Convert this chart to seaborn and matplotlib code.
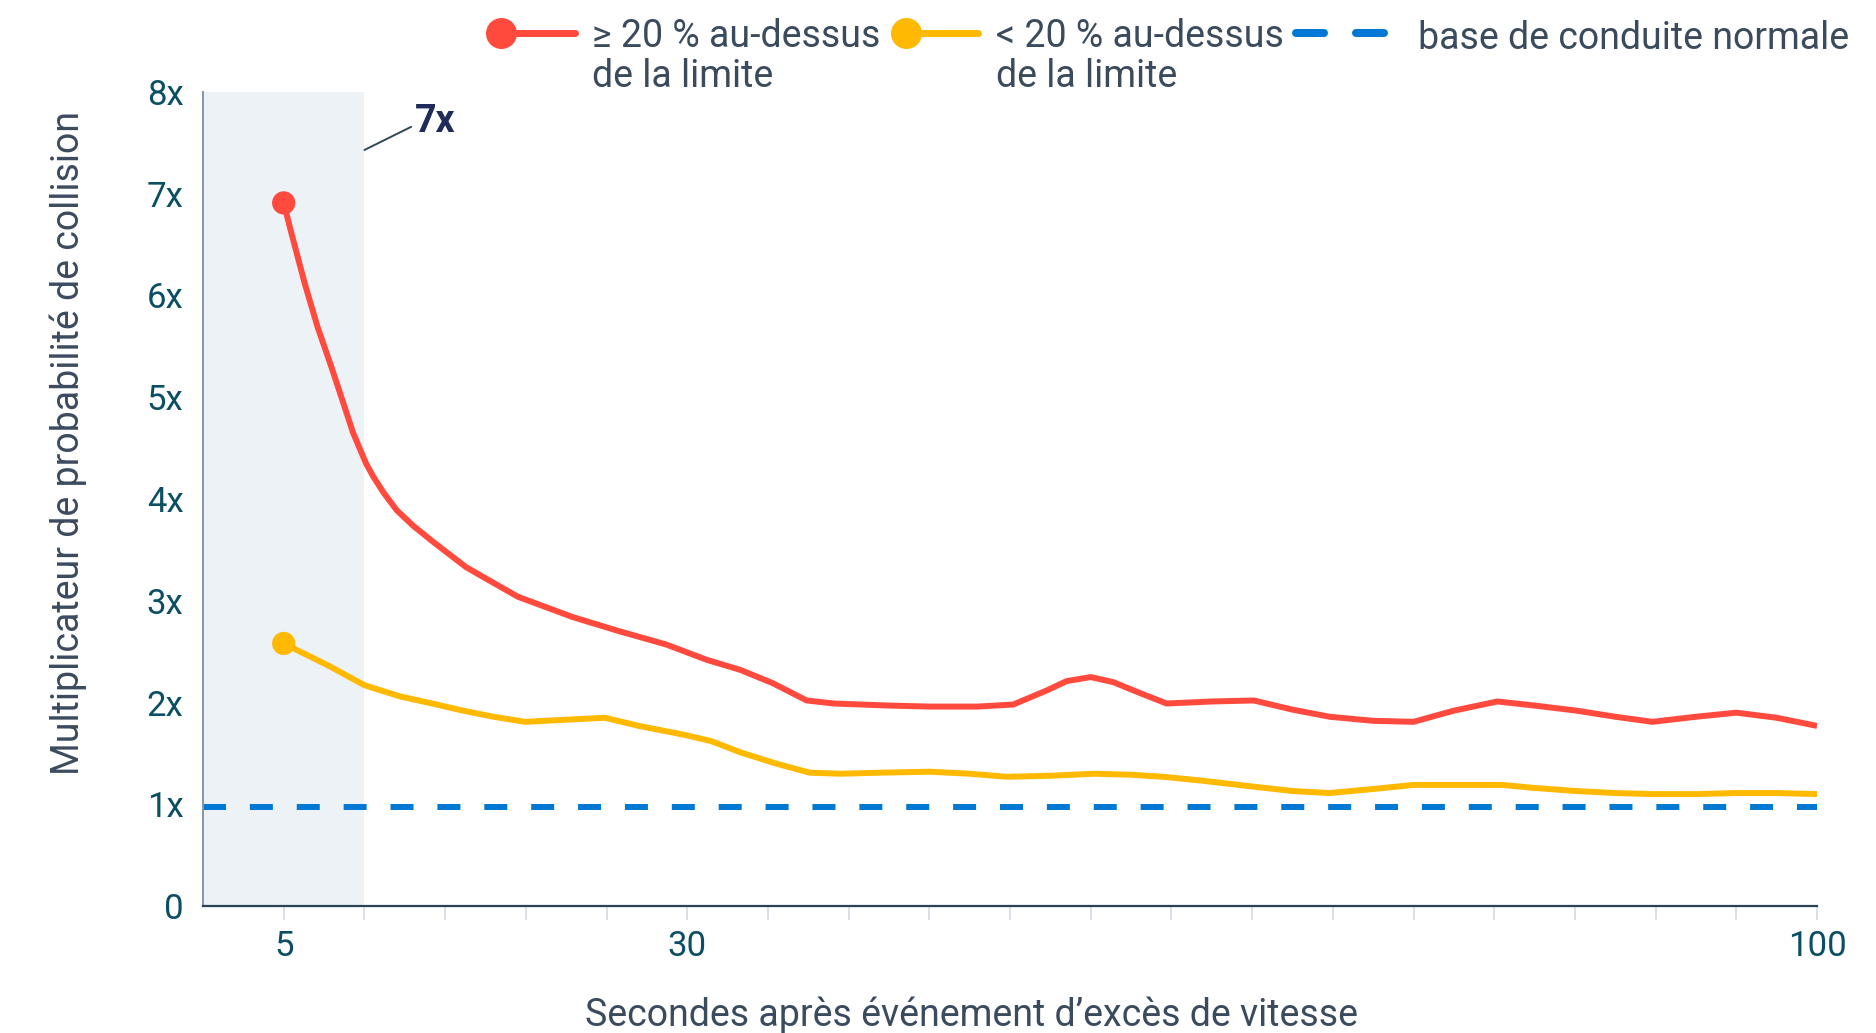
import matplotlib
matplotlib.use("Agg")
import matplotlib.pyplot as plt
import seaborn as sns
import pandas as pd
from matplotlib.legend_handler import HandlerBase
from matplotlib.lines import Line2D

# ---------------- data ----------------
red_x = [5, 5.4, 6.3, 7.1, 7.95, 8.7, 9.3, 10.1, 10.55, 11.2, 12.0, 13.0, 14.25, 16.3, 19.5,
         22.9, 25.8, 28.7, 31.2, 33.3, 35.3, 37.4, 39.1, 42.5, 45.0, 48.0, 50.2, 52.3, 53.5,
         55.0, 56.4, 58.1, 59.7, 62.5, 65.1, 67.5, 69.8, 72.5, 75.0, 77.5, 80.2, 82.5, 85.1,
         87.5, 89.8, 92.5, 95.0, 97.5, 100]
red_y = [6.91, 6.66, 6.12, 5.69, 5.30, 4.94, 4.65, 4.35, 4.22, 4.06, 3.89, 3.74, 3.58, 3.33, 3.04,
         2.84, 2.70, 2.57, 2.42, 2.32, 2.19, 2.02, 1.99, 1.97, 1.96, 1.96, 1.98, 2.12, 2.21,
         2.25, 2.20, 2.09, 1.99, 2.01, 2.02, 1.93, 1.86, 1.82, 1.81, 1.92, 2.01, 1.97, 1.92,
         1.86, 1.81, 1.86, 1.90, 1.85, 1.77]

yellow_x = [5, 6.4, 7.8, 10.0, 12.2, 14.2, 16.1, 18.0, 19.95, 22.4, 24.9, 27.0, 29.9, 31.5,
            33.3, 35.5, 37.6, 39.5, 41.9, 45.0, 47.5, 49.8, 52.5, 55.2, 57.5, 59.5, 62,
            64.7, 67.5, 69.8, 72.5, 75, 77.5, 80.5, 82.5, 85.1, 87.5, 89.8, 92.5, 95, 97.5, 100]
yellow_y = [2.58, 2.47, 2.36, 2.17, 2.06, 1.99, 1.92, 1.86, 1.81, 1.83, 1.85, 1.77, 1.68, 1.62,
            1.51, 1.40, 1.31, 1.30, 1.31, 1.32, 1.30, 1.27, 1.28, 1.30, 1.29, 1.27, 1.23,
            1.18, 1.13, 1.11, 1.15, 1.19, 1.19, 1.19, 1.16, 1.13, 1.11, 1.10, 1.10, 1.11, 1.11, 1.10]

baseline_value = 0.97
series_names = ["≥ 20 % au-dessus\nde la limite", "< 20 % au-dessus\nde la limite"]
baseline_name = "base de conduite normale"
x_ticks = list(range(5, 101, 5))
x_tick_labels = ["5" if t == 5 else "30" if t == 30 else "100" if t == 100 else "" for t in x_ticks]
y_ticks = [0, 1, 2, 3, 4, 5, 6, 7, 8]
y_tick_labels = ["0", "1x", "2x", "3x", "4x", "5x", "6x", "7x", "8x"]
highlight_span = (0, 10)
annotation_text = "7x"
x_label = "Secondes après événement d’excès de vitesse"
y_label = "Multiplicateur de probabilité de collision"

# ---------------- style ----------------
RED = "#ff4a3d"
YELLOW = "#ffb900"
BLUE = "#0078d4"
SHADE = "#edf2f7"
TICK_COL = "#0b4f64"
TEXT_COL = "#3b4b5e"
NAVY = "#1f2b5b"

sns.set_theme(style="white")
plt.rcParams["font.family"] = ["Roboto", "DejaVu Sans"]

W, H = 1876, 1033
fig = plt.figure(figsize=(W / 100, H / 100), dpi=100)
ax = fig.add_axes([203 / W, (H - 906) / H, (1817 - 203) / W, (906 - 92) / H])

df = pd.concat([
    pd.DataFrame({"x": red_x, "y": red_y, "series": series_names[0]}),
    pd.DataFrame({"x": yellow_x, "y": yellow_y, "series": series_names[1]}),
])
palette = {series_names[0]: RED, series_names[1]: YELLOW}

ax.axvspan(*highlight_span, color=SHADE, zorder=0, lw=0)
ax.axhline(baseline_value, color=BLUE, lw=4.3, dashes=(3.85, 4.0), dash_capstyle="butt", zorder=2)

sns.lineplot(data=df, x="x", y="y", hue="series", palette=palette, lw=4.3,
             legend=False, ax=ax, zorder=3, solid_capstyle="butt", solid_joinstyle="round")
first = df.groupby("series", sort=False).first().reset_index()
sns.scatterplot(data=first, x="x", y="y", hue="series", palette=palette, s=280,
                linewidth=0, legend=False, ax=ax, zorder=4)

ax.set_xlim(0, 100)
ax.set_ylim(0, 8)
ax.set_xticks(x_ticks)
ax.set_xticklabels(x_tick_labels)
ax.set_yticks(y_ticks)
ax.set_yticklabels(y_tick_labels)
ax.tick_params(axis="x", length=10, width=1.2, color="#d3dae1", labelsize=25,
               labelcolor=TICK_COL, pad=7, bottom=True)
ax.tick_params(axis="y", length=0, labelsize=25, labelcolor=TICK_COL, pad=14, left=True)

for s in ["top", "right"]:
    ax.spines[s].set_visible(False)
ax.spines["left"].set_color("#8496a9")
ax.spines["left"].set_linewidth(1.4)
ax.spines["bottom"].set_color("#2b4356")
ax.spines["bottom"].set_linewidth(1.6)
ax.grid(False)

ax.set_xlabel(x_label, fontsize=27, color=TEXT_COL)
ax.set_ylabel(y_label, fontsize=27, color=TEXT_COL)
ax.xaxis.set_label_coords(0.476, -0.1345)
ax.xaxis.label.set_va("center")
ax.yaxis.set_label_coords(-0.0836, 0.569)
ax.yaxis.label.set_va("center")

ax.annotate(annotation_text, xy=(10.0, 7.43), xytext=(13.1, 7.71), ha="left", va="center",
            fontsize=27, fontweight="bold", color=NAVY,
            arrowprops=dict(arrowstyle="-", color="#2f4858", lw=1.4, shrinkA=0, shrinkB=0,
                            relpos=(0, 0.4)))

# ---------------- legend ----------------
PX = 0.72  # px -> pt


class DotLineHandler(HandlerBase):
    def __init__(self, color, r_px=15.5, lw_px=7, yoff_px=0):
        super().__init__()
        self.color, self.r, self.lw, self.yoff = color, r_px * PX, lw_px * PX, yoff_px * PX

    def create_artists(self, legend, orig_handle, xdescent, ydescent, width, height, fontsize, trans):
        y0 = height / 2 - ydescent + self.yoff
        x0 = -xdescent
        line = Line2D([x0 + self.r, x0 + width - self.lw / 2], [y0, y0], color=self.color,
                      lw=self.lw, solid_capstyle="round", transform=trans)
        dot = Line2D([x0 + self.r], [y0], marker="o", markersize=2 * self.r, markerfacecolor=self.color,
                     markeredgewidth=0, linestyle="none", transform=trans)
        return [line, dot]


class DashPairHandler(HandlerBase):
    def __init__(self, color, lw_px=8, dash_px=36, gap_px=24, yoff_px=0):
        super().__init__()
        self.color, self.lw, self.d, self.g, self.yoff = color, lw_px * PX, dash_px * PX, gap_px * PX, yoff_px * PX

    def create_artists(self, legend, orig_handle, xdescent, ydescent, width, height, fontsize, trans):
        y0 = height / 2 - ydescent + self.yoff
        x0 = -xdescent
        arts = []
        for start in (x0, x0 + self.d + self.g):
            arts.append(Line2D([start + self.lw / 2, start + self.d - self.lw / 2], [y0, y0],
                               color=self.color, lw=self.lw, solid_capstyle="round", transform=trans))
        return arts


FS = 27
h_red, h_yel, h_blue = Line2D([], []), Line2D([], []), Line2D([], [])
common = dict(frameon=False, borderpad=0, borderaxespad=0, fontsize=FS, labelcolor=TEXT_COL,
              loc="center left")
leg1 = fig.legend([h_red], [series_names[0]], handler_map={h_red: DotLineHandler(RED, yoff_px=24.5)},
                  bbox_to_anchor=(485.5 / W, 1 - 56.5 / H), handlelength=93 * PX / FS,
                  handletextpad=13 * PX / FS, **common)
leg2 = fig.legend([h_yel], [series_names[1]], handler_map={h_yel: DotLineHandler(YELLOW, yoff_px=24.5)},
                  bbox_to_anchor=(890.5 / W, 1 - 56.5 / H), handlelength=91 * PX / FS,
                  handletextpad=14 * PX / FS, **common)
for lg in (leg1, leg2):
    for t in lg.get_texts():
        t.set_linespacing(1.13)
fig.legend([h_blue], [baseline_name], handler_map={h_blue: DashPairHandler(BLUE, yoff_px=3)},
           bbox_to_anchor=(1292 / W, 1 - 38.5 / H), handlelength=96 * PX / FS,
           handletextpad=30 * PX / FS, **common)

fig.savefig("out.png", dpi=100, facecolor="white")
